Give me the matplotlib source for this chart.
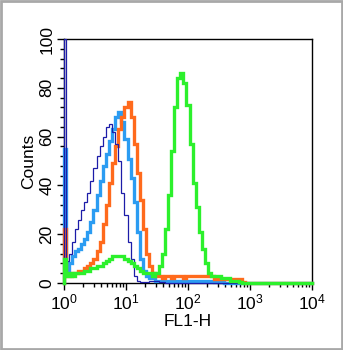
import numpy as np
import matplotlib
matplotlib.use('Agg')
import matplotlib.pyplot as plt
from matplotlib.patches import Rectangle
from matplotlib.ticker import LogLocator, MultipleLocator, LogFormatterSciNotation

plt.rcParams['font.family'] = ['Liberation Sans', 'DejaVu Sans']
plt.rcParams['mathtext.fontset'] = 'custom'
plt.rcParams['mathtext.rm'] = 'Liberation Sans'

# channel centres in decades (log10 of FL1-H), 0.05 decade apart;
# the first entry of each sample is the off-scale-low pile-up channel
log_fl1 = np.round(np.arange(0, 4.0001, 0.05), 2)

# counts per channel for each sample
isotype = [100, 9, 12, 17, 22, 26, 30, 33, 37, 42,
           47, 52, 56, 60, 64, 65, 62, 57, 50, 37,
           28, 17, 10, 3, 1, 0.5, 0.5, 0.5, 1, 1,
           1, 0.5, 0.5, 0, 0, 0, 0, 0, 0, 0,
           0, 0, 0, 0, 0, 0, 0, 0, 0, 0,
           0, 0, 0, 0, 0, 0, 0, 0, 0, 0,
           0, 0, 0, 0, 0, 0, 0, 0, 0, 0,
           0, 0, 0, 0, 0, 0, 0, 0, 0, 0, 0]
control = [55, 5, 8, 11, 13, 14, 16, 18, 21, 25,
           30, 36, 42, 48, 53, 58, 63, 68, 70, 66,
           59, 51, 43, 33, 21, 10, 5, 3, 2, 2,
           1, 1, 1, 1, 1, 1, 1, 1, 1, 1,
           1, 1, 1, 1, 1, 1, 1, 1, 1, 0.5,
           0.5, 0.5, 0, 0, 0, 0, 0, 0, 0, 0,
           0, 0, 0, 0, 0, 0, 0, 0, 0, 0,
           0, 0, 0, 0, 0, 0, 0, 0, 0, 0, 0]
unstained = [22, 3, 3, 4, 4, 5, 5, 6, 7, 8,
             10, 13, 17, 24, 32, 41, 49, 56, 63, 68,
             72, 74, 68, 57, 45, 34, 22, 12, 7, 4,
             3, 3, 2, 3, 3, 2, 3, 3, 3, 2,
             3, 3, 3, 3, 3, 3, 3, 3, 3, 1.5,
             1.5, 1.5, 1.5, 1.5, 1.5, 1.5, 1.5, 1.5, 0.5, 0,
             0, 0, 0, 0, 0, 0, 0, 0, 0, 0,
             0, 0, 0, 0, 0, 0, 0, 0, 0, 0, 0]
stained = [10, 3, 4, 3, 4, 4, 4, 5, 5, 6,
           6, 7, 7, 8, 9, 10, 11, 11, 11, 11,
           10, 9, 8, 7, 6, 5, 4, 4, 4, 3,
           4, 7, 12, 22, 36, 54, 72, 84, 86, 82,
           73, 57, 41, 31, 21, 14, 8, 4, 3, 3,
           3, 2, 2, 2, 1, 1, 1, 0.5, 0, 0,
           0, 0, 0, 0, 0, 0, 0, 0, 0, 0,
           0, 0, 0, 0, 0, 0, 0, 0, 0, 0, 0]

fig = plt.figure(figsize=(3.43, 3.5), dpi=100)
ax = fig.add_axes([64 / 343, 67 / 350, 248 / 343, 244 / 350])

centres = 10 ** log_fl1


def histo(counts, color, lw, z):
    # leading (1, 0) point gives the pile-up channel its rise on the left edge
    xs = np.concatenate([[centres[0]], centres])
    ys = np.concatenate([[0.0], np.asarray(counts, dtype=float)])
    ax.step(xs, ys, where='mid', color=color, lw=lw, zorder=z,
            clip_on=False, solid_joinstyle='miter')


histo(control, '#2b9cf2', 2.4, 3)
histo(unstained, '#ff6a1c', 2.4, 4)
histo(isotype, '#1c1ca8', 0.9, 5)
histo(stained, '#2cf02c', 2.4, 6)

ax.set_xscale('log')
ax.set_xlim(1, 1e4)
ax.set_ylim(0, 100)
ax.xaxis.set_major_locator(LogLocator(base=10, numticks=10))
ax.xaxis.set_minor_locator(LogLocator(base=10, subs=np.arange(2, 10), numticks=20))
ax.xaxis.set_major_formatter(LogFormatterSciNotation())
ax.yaxis.set_major_locator(MultipleLocator(20))
ax.yaxis.set_minor_locator(MultipleLocator(4))

ax.tick_params(which='both', direction='out', top=False, right=False, colors='black')
ax.tick_params(which='major', length=5, width=1, labelsize=12.5, pad=2)
ax.tick_params(which='minor', length=3, width=1)
for lbl in ax.get_yticklabels():
    lbl.set_rotation(90)
    lbl.set_va('center')

ax.set_xlabel('FL1-H', fontsize=12.5, labelpad=1)
ax.set_ylabel('Counts', fontsize=12.5, labelpad=2)
for s in ax.spines.values():
    s.set_linewidth(1)

fig.patches.append(Rectangle((0.003, 0.003), 0.994, 0.994, transform=fig.transFigure,
                             fill=False, edgecolor='#a8a8a8', lw=2))

fig.savefig('out.png', dpi=100)
